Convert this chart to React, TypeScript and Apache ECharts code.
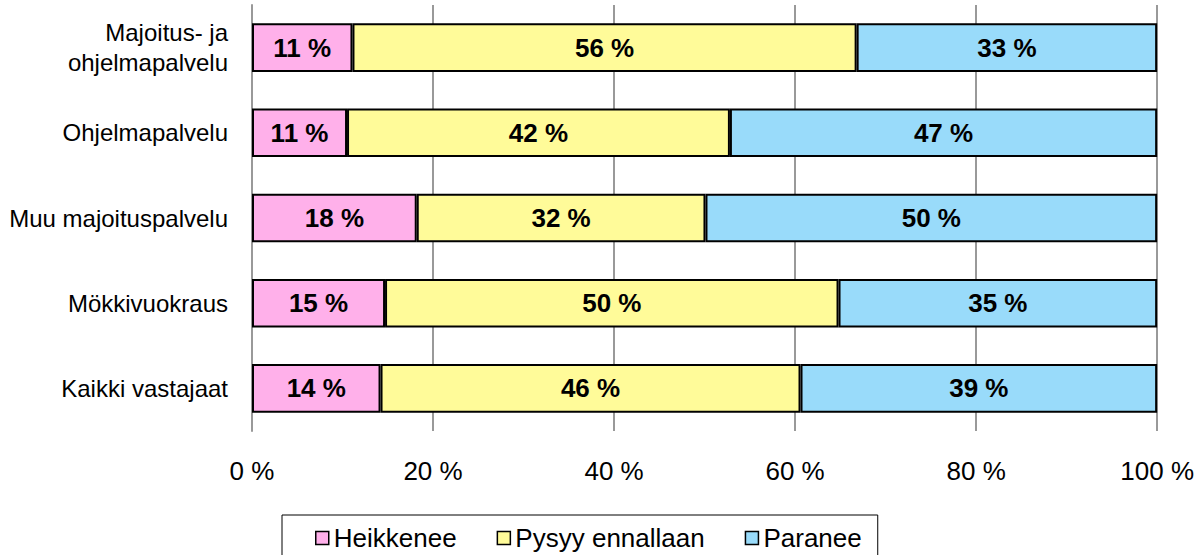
import React, { useEffect, useRef } from "react";
import * as echarts from "echarts";

const categories = [
  "Majoitus- ja\nohjelmapalvelu",
  "Ohjelmapalvelu",
  "Muu majoituspalvelu",
  "Mökkivuokraus",
  "Kaikki vastajaat",
];
const seriesNames = ["Heikkenee", "Pysyy ennallaan", "Paranee"];
const heikkenee = [11.1, 10.5, 18.2, 14.7, 14.2];
const pysyy = [55.7, 42.3, 31.9, 50.1, 46.4];
const paranee = [33.2, 47.2, 49.9, 35.2, 39.4];
const colors = ["#FFB0EA", "#FFFB99", "#99DBFA"];
const FONT = "Liberation Sans, Arial, sans-serif";

export default function App() {
  const ref = useRef<HTMLDivElement>(null);
  useEffect(() => {
    if (!ref.current) return;
    const chart = echarts.init(ref.current, undefined, { renderer: "svg" });
    const values = [heikkenee, pysyy, paranee];
    chart.setOption({
      animation: false,
      textStyle: { fontFamily: FONT },
      grid: { left: 252, right: 37, top: 5, bottom: 124, containLabel: false },
      xAxis: {
        type: "value",
        min: 0,
        max: 100,
        interval: 20,
        axisLine: { show: false },
        axisTick: { show: false },
        splitLine: { show: true, lineStyle: { color: "#999999", width: 2 } },
        axisLabel: {
          formatter: "{value} %",
          fontSize: 26,
          color: "#000",
          margin: 27,
          fontFamily: FONT,
        },
      },
      yAxis: {
        type: "category",
        inverse: true,
        data: categories,
        axisLine: { show: true, lineStyle: { color: "#999999", width: 2 } },
        axisTick: { show: false },
        axisLabel: {
          fontSize: 24,
          color: "#000",
          margin: 24,
          lineHeight: 30,
          align: "right",
          fontFamily: FONT,
        },
      },
      legend: {
        left: 282,
        top: 515,
        padding: [10, 16, 30, 33],
        borderColor: "#000",
        borderWidth: 1,
        itemWidth: 13,
        itemHeight: 13,
        itemGap: 40,
        icon: "rect",
        itemStyle: { borderColor: "#000", borderWidth: 1.5 },
        textStyle: { fontSize: 26, color: "#000", fontFamily: FONT },
        data: seriesNames,
      },
      series: seriesNames.map((name, i) => ({
        name,
        type: "bar",
        stack: "total",
        barCategoryGap: "43%",
        data: values[i],
        itemStyle: { color: colors[i], borderColor: "#000", borderWidth: 2 },
        label: {
          show: true,
          position: "inside",
          formatter: (p: any) => Math.round(p.value) + " %",
          fontSize: 26,
          fontWeight: "bold",
          color: "#000",
          fontFamily: FONT,
        },
      })),
    });
    return () => chart.dispose();
  }, []);
  return (
    <div
      ref={ref}
      style={{ position: "fixed", left: 0, top: 0, width: 1197, height: 555, background: "#fff" }}
    />
  );
}
